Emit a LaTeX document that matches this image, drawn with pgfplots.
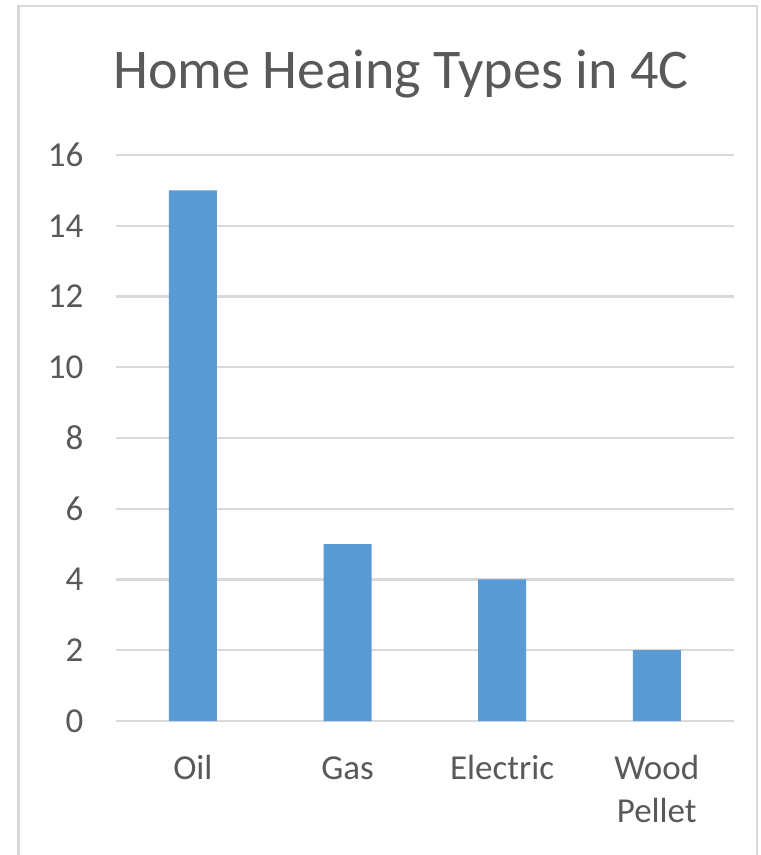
\documentclass[border=0pt]{standalone}
\usepackage{pgfplots}
\pgfplotsset{compat=1.18}
\usepackage{fontspec}
\setmainfont{Carlito}
\definecolor{txtgray}{HTML}{595959}
\definecolor{gridgray}{HTML}{D9D9D9}
\definecolor{barblue}{HTML}{5B9BD5}
\begin{document}
\begin{tikzpicture}[x=1pt,y=1pt]
\path[use as bounding box, fill=white] (0,0) rectangle (761,855);
\draw[gridgray, line width=2.6pt] (18.5,0) -- (18.5,849) -- (757,849) -- (757,0);
\node[anchor=base, text=txtgray, inner sep=0pt, font=\fontsize{56pt}{67pt}\selectfont] at (401,766) {Home Heaing Types in 4C};
\begin{axis}[
  at={(115.6pt,134pt)}, anchor=south west,
  scale only axis, width=618.5pt, height=566pt,
  xmin=-0.5, xmax=3.5, ymin=0, ymax=16,
  ytick={0,2,...,16},
  xtick={0,1,2,3},
  xticklabels={Oil,\vphantom{l}Gas,Electric,{Wood\\Pellet}},
  /pgf/number format/assume math mode=true,
  major tick length=0pt,
  axis line style={draw=none},
  ymajorgrids,
  grid style={gridgray, line width=2.4pt},
  ticklabel style={text=txtgray, font=\fontsize{35pt}{43pt}\selectfont, inner sep=0pt},
  yticklabel style={anchor=east, xshift=-32pt},
  xticklabel style={anchor=north, yshift=-34pt, align=center},
  ybar, bar width=48pt,
]
\addplot[fill=barblue, draw=none] coordinates {(0,15) (1,5) (2,4) (3,2)};
\end{axis}
\end{tikzpicture}
\end{document}
